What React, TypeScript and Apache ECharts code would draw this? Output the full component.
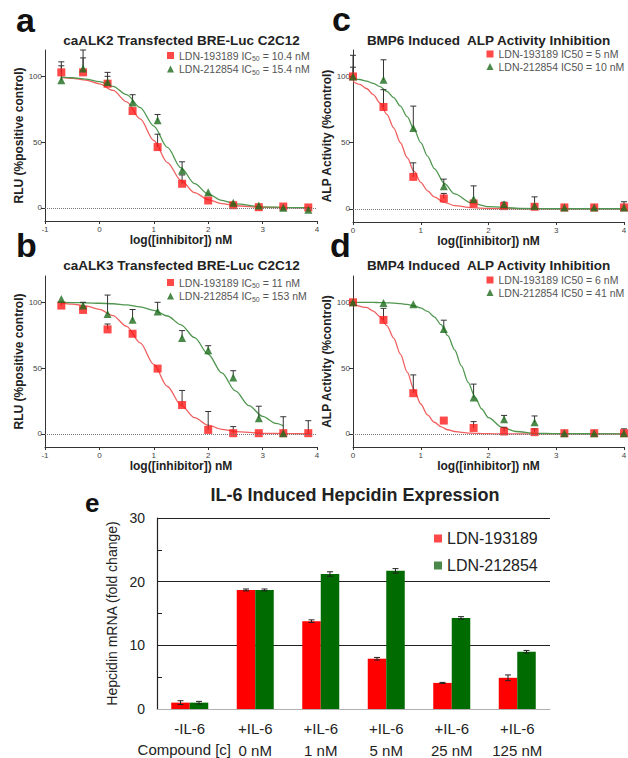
import React, { useEffect, useRef } from "react";
import * as echarts from "echarts";

const FONT = "'Liberation Sans', Arial, Helvetica, sans-serif";

// ---------- panels a & b (log nM) ----------
const xAB = [-0.7, -0.3, 0.15, 0.61, 1.07, 1.52, 2.0, 2.46, 2.93, 3.38, 3.84];
const redA = [103, 103, 94.4, 73.6, 46.2, 18.3, 5.6, 2, 0.5, 1, 0.3];
const greenA = [97, 106, 95.7, 80, 66.5, 28.4, 11.9, 3.8, 1.8, 0, -1.5];
const redErrA = [111, 114, 100, null, 56, 25, null, null, null, null, null];
const greenErrA = [108, 120, 103, 86, 71, 35, null, null, null, null, null];

const redB = [97.5, 94.2, 79.4, 76.1, 49.6, 21.9, 3, 0.5, 0.5, 0.5, 0.5];
const greenB = [102.6, 97.5, 91.2, 86.7, 93, 72.8, 63.5, 42.9, 11.9, 0.5];
const redErrB = [100, null, 83.5, null, null, 33, 17, 5.5, null, null, 10];
const greenErrB = [null, 100, 105.5, 94.5, 100, 78.5, 67, 48, 21, 13];

const curveXA = [-0.7, -0.5, -0.25, 0, 0.25, 0.5, 0.75, 1, 1.25, 1.5, 1.75, 2, 2.25, 2.5, 3, 3.5, 3.9];
const curveRedA = [99.1, 98.5, 97.1, 94.3, 89.3, 80.6, 67.6, 51.2, 34.4, 20.8, 11.6, 6.2, 3.2, 1.6, 0.4, 0.1, 0];
const curveGreenA = [99.4, 98.9, 97.8, 95.9, 92.3, 86.0, 76.2, 62.2, 45.9, 30.4, 18.4, 10.4, 5.7, 3.0, 0.8, 0.2, 0.1];
const curveRedB = [99.2, 98.6, 97.3, 94.7, 89.9, 81.7, 69.1, 52.8, 36.0, 21.9, 12.3, 6.6, 3.4, 1.7, 0.4, 0.1, 0];
const curveXB2 = [-0.7, -0.5, -0.25, 0, 0.25, 0.5, 0.75, 1, 1.25, 1.5, 1.75, 2, 2.25, 2.5, 2.75, 3, 3.25, 3.38];
const curveGreenB = [99.9, 99.8, 99.6, 99.3, 98.9, 98.0, 96.5, 93.9, 89.6, 82.9, 73.1, 60.5, 46.3, 32.6, 21.4, 13.3, 7.9, 6.0];

// ---------- panels c & d ----------
const xCD = [0, 0.45, 0.89, 1.34, 1.78, 2.23, 2.68, 3.12, 3.56, 4.0];
const redC = [100, 76.9, 24.1, 7.8, 4.0, 2, 1.5, 1, 1, 1];
const greenC = [100, 97.5, 61, 17.1, 7.3, 3.5, 2.3, 1, 1, 1];
const redErrC = [107, 90, 34.7, 11.6, null, null, null, null, null, null];
const greenErrC = [116, 112.6, 77.6, 22.4, 17.3, 5, 9, null, null, 5.3];

const redD = [100, 86.6, 30.9, 10.1, 4.5, 1.8, 1.3, 0.5, 0.5, 0.5];
const greenD = [100, 99.5, 98.5, 79.8, 27.7, 11.1, 8.8, 0.5, 0.5, 0.5];
const redErrD = [null, 95.4, 44.8, null, 9.3, 5, 3.8, null, null, null];
const greenErrD = [null, null, null, 86.4, 37.8, 14, 13.6, null, null, 3.8];

const curveXC = [0, 0.1, 0.2, 0.3, 0.4, 0.5, 0.6, 0.7, 0.8, 0.9, 1.0, 1.1, 1.2, 1.35, 1.5, 1.75, 2.0, 2.5, 3, 4];
const curveRedC = [96.2, 94.0, 90.9, 86.3, 79.9, 71.4, 61.2, 49.9, 38.6, 28.4, 20.0, 13.6, 9.0, 4.8, 2.4, 0.8, 0.2, 0, 0, 0];
const curveGreenC = [98.4, 97.7, 96.5, 94.8, 92.3, 88.8, 84.0, 77.6, 69.6, 60.2, 50.0, 39.8, 30.4, 19.0, 11.2, 4.3, 1.6, 0.2, 0, 0];

const curveXD = [0, 0.2, 0.3, 0.4, 0.5, 0.6, 0.7, 0.8, 0.9, 1.0, 1.1, 1.2, 1.3, 1.4, 1.5, 1.6, 1.7, 1.8, 1.9, 2.0, 2.2, 2.4, 2.7, 3.0, 4.0];
const curveRedD = [98.7, 96.1, 93.3, 89.0, 82.3, 72.8, 60.6, 46.9, 33.7, 22.7, 14.4, 8.8, 5.3, 3.1, 1.8, 1.1, 0.6, 0.4, 0.2, 0.1, 0, 0, 0, 0, 0];
const curveGreenD = [100, 99.9, 99.9, 99.8, 99.6, 99.4, 99.0, 98.4, 97.4, 95.7, 93.1, 89.0, 83.0, 74.6, 63.9, 51.7, 39.2, 28.0, 18.9, 12.3, 4.9, 1.8, 0.4, 0.1, 0];

// ---------- tick labels / texts ----------
const yTicksCurve = [0, 50, 100];
const yMinorTicksE = [5, 15, 25];
const seriesNames = ["LDN-193189", "LDN-212854"];
const legendSuffixA = [" = 10.4 nM", " = 15.4 nM"];
const legendSuffixB = [" = 11 nM", " = 153 nM"];
const legendTextC = ["LDN-193189 IC50 = 5 nM", "LDN-212854 IC50 = 10 nM"];
const legendTextD = ["LDN-193189 IC50 = 6 nM", "LDN-212854 IC50 = 41 nM"];

// ---------- panel e ----------
const categoriesE = ["-IL-6", "+IL-6\n0 nM", "+IL-6\n1 nM", "+IL-6\n5 nM", "+IL-6\n25 nM", "+IL-6\n125 nM"];
const barRedE = [1.0, 18.7, 13.8, 7.9, 4.1, 4.9];
const barGreenE = [1.0, 18.7, 21.2, 21.7, 14.3, 9.0];
const errRedE = [0.3, 0.15, 0.2, 0.2, 0.08, 0.45];
const errGreenE = [0.2, 0.15, 0.35, 0.35, 0.2, 0.2];

const RED = "#ff1a1a";
const GREEN = "#1d6b1d";
const RED_LINE = "#f06060";
const GREEN_LINE = "#4f974f";
const BAR_RED = "#ff0000";
const BAR_GREEN = "#006b00";
const BAR_W = 18.5;

const pts = (xs: number[], ys: number[]) => ys.map((y, i) => [xs[i], y]);
const errPts = (xs: number[], ys: number[], tops: (number | null)[]) =>
  tops.map((t, i) => (t == null ? null : [xs[i], ys[i], t])).filter((d) => d != null);

const errRender = (params: any, api: any) => {
  const p0 = api.coord([api.value(0), api.value(1)]);
  const p1 = api.coord([api.value(0), api.value(2)]);
  const st = { stroke: "#333", lineWidth: 1 };
  return {
    type: "group",
    children: [
      { type: "line", shape: { x1: p0[0], y1: p0[1], x2: p1[0], y2: p1[1] }, style: st },
      { type: "line", shape: { x1: p1[0] - 3, y1: p1[1], x2: p1[0] + 3, y2: p1[1] }, style: st },
    ],
  };
};

const barErrRender = (dx: number) => (params: any, api: any) => {
  const lo = api.coord([api.value(0), api.value(1)]);
  const hi = api.coord([api.value(0), api.value(2)]);
  const x = lo[0] + dx;
  const st = { stroke: "#222", lineWidth: 1 };
  return {
    type: "group",
    children: [
      { type: "line", shape: { x1: x, y1: lo[1], x2: x, y2: hi[1] }, style: st },
      { type: "line", shape: { x1: x - 3, y1: lo[1], x2: x + 3, y2: lo[1] }, style: st },
      { type: "line", shape: { x1: x - 3, y1: hi[1], x2: x + 3, y2: hi[1] }, style: st },
    ],
  };
};

const panels = [
  { xs: xAB, red: redA, green: greenA, rErr: redErrA, gErr: greenErrA, cxR: curveXA, cR: curveRedA, cxG: curveXA, cG: curveGreenA },
  { xs: xAB, red: redB, green: greenB, rErr: redErrB, gErr: greenErrB, cxR: curveXA, cR: curveRedB, cxG: curveXB2, cG: curveGreenB },
  { xs: xCD, red: redC, green: greenC, rErr: redErrC, gErr: greenErrC, cxR: curveXC, cR: curveRedC, cxG: curveXC, cG: curveGreenC },
  { xs: xCD, red: redD, green: greenD, rErr: redErrD, gErr: greenErrD, cxR: curveXD, cR: curveRedD, cxG: curveXD, cG: curveGreenD },
];

const gridRects = [
  { left: 45, top: 50, width: 272, height: 171 },
  { left: 45, top: 276, width: 272, height: 171 },
  { left: 353, top: 50, width: 271, height: 172 },
  { left: 353, top: 276, width: 271, height: 171 },
  { left: 157, top: 518, width: 393, height: 191 },
];

function buildOption() {
  const series: any[] = [];
  panels.forEach((p, i) => {
    series.push({
      type: "line", name: "fitR" + i, xAxisIndex: i, yAxisIndex: i, data: pts(p.cxR, p.cR),
      showSymbol: false, smooth: 0.3, smoothMonotone: "x", silent: true, z: 2,
      lineStyle: { color: RED_LINE, width: 1.3 },
    });
    series.push({
      type: "line", name: "fitG" + i, xAxisIndex: i, yAxisIndex: i, data: pts(p.cxG, p.cG),
      showSymbol: false, smooth: 0.3, smoothMonotone: "x", silent: true, z: 2,
      lineStyle: { color: GREEN_LINE, width: 1.3 },
    });
    series.push({
      type: "custom", name: "errR" + i, xAxisIndex: i, yAxisIndex: i, renderItem: errRender,
      data: errPts(p.xs, p.red, p.rErr), encode: { x: 0, y: [1, 2] }, z: 3, silent: true,
    });
    series.push({
      type: "custom", name: "errG" + i, xAxisIndex: i, yAxisIndex: i, renderItem: errRender,
      data: errPts(p.xs, p.green, p.gErr), encode: { x: 0, y: [1, 2] }, z: 3, silent: true,
    });
    series.push({
      type: "scatter", name: seriesNames[0], xAxisIndex: i, yAxisIndex: i, data: pts(p.xs, p.red),
      symbol: "rect", symbolSize: 8, itemStyle: { color: RED }, z: 4,
      markLine: {
        silent: true, symbol: "none", label: { show: false },
        lineStyle: { type: "dotted", color: "#777", width: 1 },
        data: [{ yAxis: 0 }],
      },
    });
    series.push({
      type: "scatter", name: seriesNames[1], xAxisIndex: i, yAxisIndex: i, data: pts(p.xs, p.green),
      symbol: "triangle", symbolSize: 8, itemStyle: { color: GREEN }, z: 5,
    });
  });

  series.push({
    type: "bar", name: seriesNames[0], xAxisIndex: 4, yAxisIndex: 4, data: barRedE,
    barWidth: BAR_W, barGap: "0%", itemStyle: { color: BAR_RED }, z: 2,
  });
  series.push({
    type: "bar", name: seriesNames[1], xAxisIndex: 4, yAxisIndex: 4, data: barGreenE,
    barWidth: BAR_W, barGap: "0%", itemStyle: { color: BAR_GREEN }, z: 2,
  });
  series.push({
    type: "custom", name: "errBarR", xAxisIndex: 4, yAxisIndex: 4, renderItem: barErrRender(-BAR_W / 2),
    data: barRedE.map((v, i) => [i, v - errRedE[i], v + errRedE[i]]), encode: { x: 0, y: [1, 2] }, z: 3, silent: true,
  });
  series.push({
    type: "custom", name: "errBarG", xAxisIndex: 4, yAxisIndex: 4, renderItem: barErrRender(BAR_W / 2),
    data: barGreenE.map((v, i) => [i, v - errGreenE[i], v + errGreenE[i]]), encode: { x: 0, y: [1, 2] }, z: 3, silent: true,
  });

  const axisColor = "#333";
  const xAxes: any[] = [0, 1, 2, 3].map((i) => ({
    type: "value", gridIndex: i,
    min: i < 2 ? -1 : 0, max: 4, interval: 1,
    axisLine: { show: true, onZero: false, lineStyle: { color: axisColor, width: 1 } },
    axisTick: { show: true, length: 3, lineStyle: { color: axisColor } },
    axisLabel: { fontSize: 8, color: "#444", margin: 4, fontFamily: FONT },
    splitLine: { show: false },
    name: "log([inhibitor]) nM", nameLocation: "middle", nameGap: 12,
    nameTextStyle: { fontSize: 12, fontWeight: "bold", color: "#222", fontFamily: FONT },
  }));
  xAxes.push({
    type: "category", gridIndex: 4, data: categoriesE,
    axisLine: { show: true, onZero: false, lineStyle: { color: "#b0b0b0", width: 1.2 } },
    axisTick: { show: false },
    axisLabel: { interval: 0, fontSize: 15, lineHeight: 22, color: "#222", margin: 8, fontFamily: FONT },
    splitLine: { show: false },
  });

  const yAxes: any[] = [0, 1, 2, 3].map((i) => ({
    type: "value", gridIndex: i, min: -10, max: 120,
    axisLine: { show: true, onZero: false, lineStyle: { color: axisColor, width: 1 } },
    axisTick: { show: true, length: 4, customValues: yTicksCurve, lineStyle: { color: axisColor } },
    axisLabel: { fontSize: 8, color: "#444", margin: 3, customValues: yTicksCurve, fontFamily: FONT },
    splitLine: { show: false },
    name: i < 2 ? "RLU (%positive control)" : "ALP Activity (%control)",
    nameLocation: "middle", nameGap: i < 2 ? 18 : 15,
    nameTextStyle: { fontSize: 12, fontWeight: "bold", color: "#222", fontFamily: FONT },
  }));
  yAxes.push({
    type: "value", gridIndex: 4, min: 0, max: 30, interval: 10, position: "left",
    axisLine: { show: true, onZero: false, lineStyle: { color: "#222", width: 1.2 } },
    axisTick: { show: false },
    axisLabel: { fontSize: 14, color: "#222", margin: 12, fontFamily: FONT },
    splitLine: { show: true, showMinLine: false, lineStyle: { color: "#222", width: 1.2 } },
    name: "Hepcidin mRNA (fold change)", nameLocation: "middle", nameGap: 31,
    nameTextStyle: { fontSize: 14, color: "#222", fontFamily: FONT },
  });
  // helper axis that only draws the small inner ticks at 5, 15, 25
  yAxes.push({
    type: "value", gridIndex: 4, min: 0, max: 30, position: "left", offset: 0,
    axisLine: { show: false, onZero: false },
    axisTick: { show: true, inside: true, length: 5, customValues: yMinorTicksE, lineStyle: { color: "#222", width: 1 } },
    axisLabel: { show: false },
    splitLine: { show: false },
  });

  const letter = (text: string, left: number, top: number, size: number) => ({
    text, left, top, padding: 0, textAlign: "left",
    textStyle: { fontSize: size, fontWeight: "bold", color: "#111", fontFamily: FONT },
  });
  const heading = (text: string, left: number, top: number, size: number) => ({
    text, left, top, padding: 0, textAlign: "center",
    textStyle: { fontSize: size, fontWeight: "bold", color: "#222", fontFamily: FONT },
  });

  const richLeg = {
    t: { fontSize: 10.5, color: "#555", lineHeight: 13, fontFamily: FONT },
    s: { fontSize: 7, color: "#555", lineHeight: 8, verticalAlign: "bottom", fontFamily: FONT },
  };
  const legendItems = [
    { name: seriesNames[0], icon: "rect" },
    { name: seriesNames[1], icon: "triangle" },
  ];
  const smallLegend = (left: number, top: number, fmt: (n: string) => string) => ({
    left, top, orient: "vertical", padding: 0, itemWidth: 7, itemHeight: 7, itemGap: 1.5,
    selectedMode: false, data: legendItems, formatter: fmt,
    textStyle: { fontSize: 10.5, color: "#555", fontFamily: FONT, rich: richLeg },
  });
  const subFmt = (suffix: string[]) => (n: string) => {
    const k = seriesNames.indexOf(n);
    return "{t|" + n + " IC}{s|50}{t|" + suffix[k] + "}";
  };
  const plainFmt = (texts: string[]) => (n: string) => "{t|" + texts[seriesNames.indexOf(n)] + "}";

  return {
    animation: false,
    backgroundColor: "#ffffff",
    textStyle: { fontFamily: FONT },
    title: [
      letter("a", 16, 3, 34),
      heading("caALK2 Transfected BRE-Luc C2C12", 181.5, 33, 13.5),
      letter("b", 16, 228, 34),
      heading("caALK3 Transfected BRE-Luc C2C12", 181.5, 258.5, 13.5),
      letter("c", 332, 2, 34),
      heading("BMP6 Induced  ALP Activity Inhibition", 488.5, 33, 13.5),
      letter("d", 330, 228, 34),
      heading("BMP4 Induced  ALP Activity Inhibition", 488.5, 258.5, 13.5),
      letter("e", 85, 490, 26),
      heading("IL-6 Induced Hepcidin Expression", 355, 486, 18),
      {
        text: "Compound [c]", left: 231, top: 742, padding: 0, textAlign: "right",
        textStyle: { fontSize: 15, fontWeight: "normal", color: "#222", fontFamily: FONT },
      },
    ],
    legend: [
      smallLegend(167, 50, subFmt(legendSuffixA)),
      smallLegend(167, 277, subFmt(legendSuffixB)),
      smallLegend(486.5, 48.5, plainFmt(legendTextC)),
      smallLegend(486.5, 274.5, plainFmt(legendTextD)),
      {
        left: 434, top: 529, orient: "vertical", padding: 0, itemWidth: 8, itemHeight: 8, itemGap: 8,
        selectedMode: false,
        data: [{ name: seriesNames[0], icon: "rect" }, { name: seriesNames[1], icon: "rect" }],
        textStyle: { fontSize: 16, color: "#222", lineHeight: 19, fontFamily: FONT },
      },
    ],
    grid: gridRects.map((g) => ({ ...g, containLabel: false, outerBoundsMode: "none" })),
    xAxis: xAxes,
    yAxis: yAxes,
    series,
  };
}

export default function App() {
  const ref = useRef<HTMLDivElement>(null);
  useEffect(() => {
    if (!ref.current) return;
    const chart = echarts.init(ref.current, null, { renderer: "svg" });
    chart.setOption(buildOption() as any);
    return () => chart.dispose();
  }, []);
  return (
    <div
      ref={ref}
      style={{ position: "fixed", left: 0, top: 0, width: 628, height: 758, background: "#fff" }}
    />
  );
}
